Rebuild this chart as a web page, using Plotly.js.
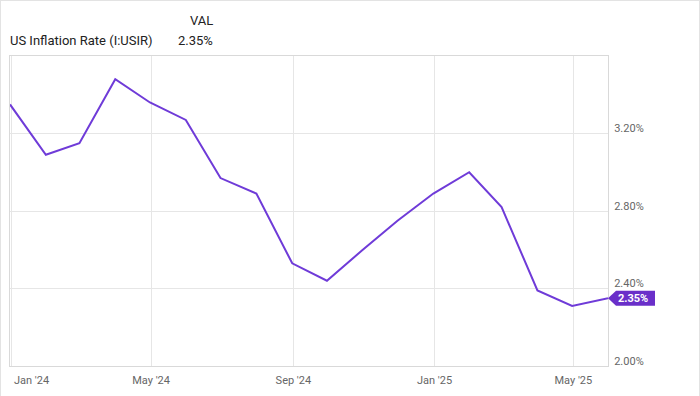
<!DOCTYPE html>
<html>
<head>
<meta charset="utf-8">
<script src="https://cdn.plot.ly/plotly-3.0.1.min.js"></script>
<style>
  html, body { margin: 0; padding: 0; background: #fff; }
  #wrap { position: relative; width: 700px; height: 396px; }
  #chart { width: 700px; height: 396px; }
  #frame { position: absolute; left: 0; top: 0; width: 698px; height: 396px;
           border-top: 1px solid #e3e3e3; border-left: 1px solid #e3e3e3; border-right: 1px solid #e3e3e3;
           pointer-events: none; }
</style>
</head>
<body>
<div id="wrap"><div id="chart"></div><div id="frame"></div></div>
<script>
// Data (month-end dates, US inflation rate %)
const dates = ["2023-12-31","2024-01-31","2024-02-29","2024-03-31","2024-04-30","2024-05-31",
               "2024-06-30","2024-07-31","2024-08-31","2024-09-30","2024-10-31","2024-11-30",
               "2024-12-31","2025-01-31","2025-02-28","2025-03-31","2025-04-30","2025-05-31"];
const values = [3.35, 3.09, 3.15, 3.48, 3.36, 3.27, 2.97, 2.89, 2.53, 2.44, 2.60, 2.75,
                2.89, 3.00, 2.82, 2.39, 2.31, 2.35];
const tickDates = ["2024-01-01","2024-05-01","2024-09-01","2025-01-01","2025-05-01"];
const tickLabels = ["Jan '24","May '24","Sep '24","Jan '25","May '25"];
const yTicks = [2.0, 2.4, 2.8, 3.2];
const seriesName = "US Inflation Rate (I:USIR)";
const headerCol = "VAL";

const lastVal = values[values.length - 1];
const lastTxt = lastVal.toFixed(2) + "%";
const lineColor = "#6f3bd8";
const tagColor = "#6a2fc9";
const font = "Roboto, Arial, sans-serif";

const trace = {
  x: dates, y: values, type: "scatter", mode: "lines",
  line: { color: lineColor, width: 2 }, hoverinfo: "skip"
};

const layout = {
  width: 700, height: 396,
  margin: { l: 10, r: 92, t: 56, b: 30 },
  paper_bgcolor: "#fff", plot_bgcolor: "#fff",
  showlegend: false,
  font: { family: font, size: 11, color: "#666" },
  xaxis: {
    type: "date",
    range: ["2023-12-31", "2025-05-31"],
    tickvals: tickDates,
    ticktext: tickLabels.map((t, i) => i === 0 ? "" : t),
    ticklabelstandoff: 4,
    showgrid: true, gridcolor: "#e6e6e6", gridwidth: 1,
    showline: true, linecolor: "#d9d9d9", linewidth: 1, mirror: true,
    ticks: "", zeroline: false,
    tickfont: { family: font, size: 11, color: "#666" }
  },
  yaxis: {
    side: "right",
    range: [2.0, 3.6],
    tickvals: yTicks,
    ticktext: yTicks.map(v => v.toFixed(2) + "%"),
    ticklabelshift: -5,
    ticklabelstandoff: 3,
    showgrid: true, gridcolor: "#e6e6e6", gridwidth: 1,
    showline: true, linecolor: "#d9d9d9", linewidth: 1, mirror: true,
    ticks: "", zeroline: false,
    tickfont: { family: font, size: 11, color: "#666" }
  },
  shapes: [{
    type: "path", xref: "paper", yref: "y",
    xsizemode: "pixel", ysizemode: "pixel",
    xanchor: 1, yanchor: lastVal,
    path: "M0,0 L8,7.5 L47,7.5 L47,-7.5 L8,-7.5 Z",
    fillcolor: tagColor, line: { width: 0 }
  }],
  annotations: [
    { xref: "x", yref: "paper", x: tickDates[0], y: 0, yshift: -14,
      xanchor: "left", yanchor: "middle", xshift: 1, showarrow: false,
      text: tickLabels[0], font: { family: font, size: 11, color: "#666" } },
    { xref: "paper", yref: "y", x: 1, y: lastVal, xshift: 8, xanchor: "left", yanchor: "middle",
      showarrow: false, text: "<b>" + lastTxt + "</b>",
      font: { family: font, size: 11, color: "#fff" } },
    { xref: "paper", yref: "paper", x: -0.0033, y: 1.0516, xanchor: "left", yanchor: "middle",
      showarrow: false, text: seriesName, font: { family: font, size: 13, color: "#222" } },
    { xref: "paper", yref: "paper", x: 0.3428, y: 1.116, xanchor: "right", yanchor: "middle",
      showarrow: false, text: headerCol, font: { family: font, size: 13, color: "#222" } },
    { xref: "paper", yref: "paper", x: 0.3428, y: 1.0516, xanchor: "right", yanchor: "middle",
      showarrow: false, text: lastTxt, font: { family: font, size: 13, color: "#222" } }
  ]
};

Plotly.newPlot("chart", [trace], layout, { staticPlot: true, displayModeBar: false });
</script>
</body>
</html>
